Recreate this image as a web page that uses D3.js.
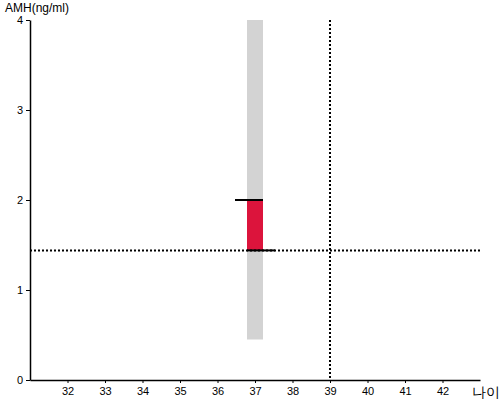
<!DOCTYPE html>
<html>
<head>
<meta charset="utf-8">
<script src="https://cdn.jsdelivr.net/npm/d3@7"></script>
<style>
  body { margin: 0; background: #fff; }
  svg text { font-family: "Liberation Sans", Arial, sans-serif; }
</style>
</head>
<body>
<div id="chart"></div>
<script>
// data
const xDomain = [31, 43];
const yDomain = [0, 4];
const xTicks = [32, 33, 34, 35, 36, 37, 38, 39, 40, 41, 42];
const yTicks = [0, 1, 2, 3, 4];
const age = 37;            // patient age
const refAge = 39;         // reference age line
const amhValue = 2.0;      // measured AMH
const amhAvg = 1.44;       // average AMH for age
const rangeLow = 0.45;     // range band low
const rangeHigh = 4;       // range band high

const width = 500, height = 400;
const mLeft = 30, mRight = 480, mTop = 20, mBottom = 380;
const bandW = 16, capW = 28;

const svg = d3.select("#chart").append("svg")
  .attr("width", width)
  .attr("height", height);

const x = d3.scaleLinear().domain(xDomain).range([mLeft, mRight]);
const y = d3.scaleLinear().domain(yDomain).range([mBottom, mTop]);

// range band
svg.append("rect")
  .attr("x", x(age) - bandW / 2)
  .attr("width", bandW)
  .attr("y", y(rangeHigh))
  .attr("height", y(rangeLow) - y(rangeHigh))
  .attr("fill", "#d3d3d3");

// difference bar
svg.append("rect")
  .attr("x", x(age) - bandW / 2)
  .attr("width", bandW)
  .attr("y", y(amhValue))
  .attr("height", y(amhAvg) - y(amhValue))
  .attr("fill", "#dc143c");

// dotted reference lines
svg.append("line")
  .attr("x1", mLeft).attr("x2", mRight)
  .attr("y1", y(amhAvg)).attr("y2", y(amhAvg))
  .attr("stroke", "black").attr("stroke-width", 2)
  .attr("stroke-dasharray", "2,2");

svg.append("line")
  .attr("x1", x(refAge)).attr("x2", x(refAge))
  .attr("y1", mTop).attr("y2", mBottom)
  .attr("stroke", "black").attr("stroke-width", 2)
  .attr("stroke-dasharray", "2,2");

// caps
svg.append("line")
  .attr("x1", x(age) + bandW / 2 - capW).attr("x2", x(age) + bandW / 2)
  .attr("y1", y(amhValue)).attr("y2", y(amhValue))
  .attr("stroke", "black").attr("stroke-width", 2);

svg.append("line")
  .attr("x1", x(age) - bandW / 2).attr("x2", x(age) - bandW / 2 + capW)
  .attr("y1", y(amhAvg)).attr("y2", y(amhAvg))
  .attr("stroke", "black").attr("stroke-width", 2);

// axes
const xAxis = svg.append("g")
  .attr("transform", `translate(0,${mBottom})`)
  .call(d3.axisBottom(x).tickValues(xTicks).tickSize(3).tickSizeOuter(0));

const yAxis = svg.append("g")
  .attr("transform", `translate(${mLeft},0)`)
  .call(d3.axisLeft(y).tickValues(yTicks).tickFormat(d3.format("d")).tickSize(4).tickSizeOuter(0));

[xAxis, yAxis].forEach(g => {
  g.select(".domain").attr("stroke-width", 1.5);
  g.selectAll("text")
    .attr("font-family", "Liberation Sans, Arial, sans-serif")
    .attr("font-size", 11)
    .attr("fill", "black");
});
xAxis.selectAll("text").attr("dy", "0.85em");
yAxis.selectAll("text").attr("x", -7);

// axis titles
svg.append("text")
  .attr("x", 5).attr("y", 12)
  .attr("font-size", 12)
  .text("AMH(ng/ml)");

svg.append("text")
  .attr("x", 472).attr("y", 397)
  .attr("font-size", 14)
  .attr("font-family", "Noto Sans CJK KR")
  .text("나이");
</script>
</body>
</html>
